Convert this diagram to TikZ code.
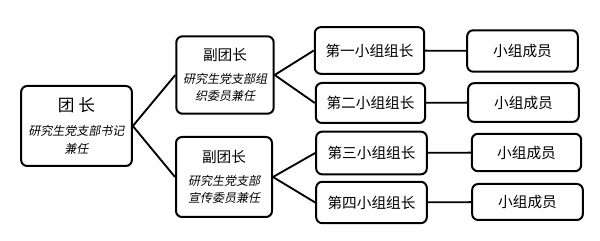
\documentclass[tikz,border=0pt]{standalone}
\usepackage{fontspec}
\setmainfont{Noto Sans CJK SC}
\newfontfamily\cjkslant{Noto Sans CJK SC}[FakeSlant=0.2]
\usetikzlibrary{positioning}
\newcommand{\hd}{\fontsize{11}{13}\selectfont}
\newcommand{\duty}{\cjkslant\fontsize{9}{12}\selectfont}

\begin{document}
\begin{tikzpicture}[
  x=0.75pt, y=-0.75pt,
  font=\hd,
  box/.style={draw, rounded corners=4.5pt, line width=1.5pt, align=center,
              inner sep=2pt},
  chief/.style={box, minimum width=83pt, minimum height=60pt},
  deputy/.style={box, minimum width=73pt, minimum height=58pt},
  leader/.style={box, minimum width=82pt, minimum height=32pt},
  member/.style={box, minimum width=83pt, minimum height=28pt},
  link/.style={line width=1.4pt},
]
\useasboundingbox (0,0) rectangle (600,241);

% ---------- tree levels ----------
\node[chief] (head) at (76.5,126)
  {{\fontsize{12.5}{14}\selectfont 团\ 长}\\[5pt]
   {\duty 研究生党支部书记}\\
   {\duty 兼任}};

\node[deputy] (vpa) at (225,75)
  {副团长\\[4pt]
   {\duty 研究生党支部组}\\
   {\duty 织委员兼任}};
\node[deputy, minimum width=72pt, minimum height=60pt] (vpb) at (224,177)
  {副团长\\[4pt]
   {\duty 研究生党支部}\\
   {\duty 宣传委员兼任}};

\node[leader, minimum height=35pt] (lda) at (369.5,50.5) {第一小组组长};
\node[leader, minimum height=30pt] (ldb) at (370.5,103) {第二小组组长};
\node[leader, minimum width=83pt] (ldc) at (371.5,153) {第三小组组长};
\node[leader, minimum width=83pt, minimum height=31pt] (ldd) at (371.5,202.5) {第四小组组长};

\node[member, minimum height=31pt] (mba) at (522.5,51) {小组成员};
\node[member, minimum height=29pt] (mbb) at (523.5,102.5) {小组成员};
\node[member, minimum width=82pt] (mbc) at (526.5,152.5) {小组成员};
\node[member, minimum height=27pt] (mbd) at (527.5,202) {小组成员};

% ---------- connectors ----------
\draw[link] (head.east) -- (vpa.west);
\draw[link] (head.east) -- (vpb.west);
\draw[link] (vpa.east) -- (lda.west);
\draw[link] (vpa.east) -- (ldb.west);
\draw[link] (vpb.east) -- (ldc.west);
\draw[link] (vpb.east) -- (ldd.west);
\draw[link] (lda) -- (mba);
\draw[link] (ldb) -- (mbb);
\draw[link] (ldc) -- (mbc);
\draw[link] (ldd) -- (mbd);

\end{tikzpicture}
\end{document}
